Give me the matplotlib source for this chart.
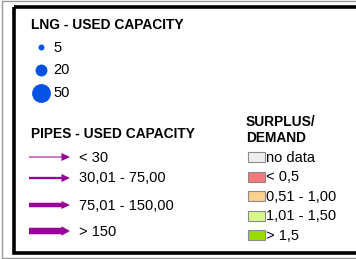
import numpy as np
import matplotlib
matplotlib.use('Agg')
import matplotlib.pyplot as plt
from matplotlib.patches import Rectangle

plt.rcParams['font.family'] = ['Liberation Sans', 'DejaVu Sans']

# legend contents
lng_title = 'LNG - USED CAPACITY'
lng_values = [5, 20, 50]

pipes_title = 'PIPES - USED CAPACITY'
pipe_labels = ['< 30', '30,01 - 75,00', '75,01 - 150,00', '> 150']

surplus_title = 'SURPLUS/\nDEMAND'
surplus_labels = ['no data', '< 0,5', '0,51 - 1,00', '1,01 - 1,50', '> 1,5']
surplus_colors = ['#eeeeee', '#f47b7b', '#fcd18b', '#d6f78a', '#99dd00']

# styles
pipe_widths = [1.0, 2.3, 4.5, 6.5]
pipe_color = '#990099'
lng_color = '#0352e4'

W, H = 356, 259
fig = plt.figure(figsize=(W / 100, H / 100), dpi=100)
ax = fig.add_axes([0, 0, 1, 1])
ax.set_xlim(0, W)
ax.set_ylim(H, 0)
ax.axis('off')

# frames
ax.add_patch(Rectangle((2, 1), 400, 257, fill=False, edgecolor='#999999', lw=1.0))
ax.add_patch(Rectangle((13.5, 7), 400, 245.5, fill=False, edgecolor='black', lw=2.6))

fs = 10.5

# LNG section
ax.text(31, 25, lng_title, fontsize=9.9, fontweight='bold', va='center', ha='left')
for i, v in enumerate(lng_values):
    y = 47 + i * 22.8
    r = 1.33 * np.sqrt(v)
    ax.scatter([40.5], [y], s=(2 * r * 0.72) ** 2, color=lng_color, lw=0, zorder=3)
    ax.text(53, y + 0.5, str(v), fontsize=fs, va='center', ha='left')

# pipes section
ax.text(31, 134, pipes_title, fontsize=9.9, fontweight='bold', va='center', ha='left')
pipe_y = [157, 178, 205, 231]
for lab, w, y in zip(pipe_labels, pipe_widths, pipe_y):
    hw = max(8, w + 3)
    ax.arrow(29, y, 41, 0, width=w, head_width=hw, head_length=8.5,
             length_includes_head=True, color=pipe_color, lw=0)
    ax.text(79, y + 0.5, lab, fontsize=fs, va='center', ha='left')

# surplus / demand section
ax.text(246, 130, surplus_title, fontsize=9.9, fontweight='bold', va='center',
        ha='left', linespacing=1.15)
for i, (lab, c) in enumerate(zip(surplus_labels, surplus_colors)):
    y = 157 + i * 19.6
    ax.add_patch(Rectangle((247.5, y - 5), 17, 10, facecolor=c, edgecolor='#8a8a8a', lw=0.8))
    ax.text(266.5, y + 0.5, lab, fontsize=fs, va='center', ha='left')

fig.savefig('out.png', dpi=100)
